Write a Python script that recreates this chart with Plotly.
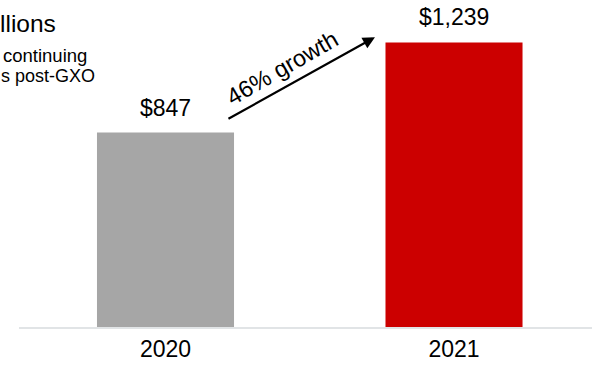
import plotly.graph_objects as go

categories = ["2020", "2021"]
values = [847, 1239]
value_labels = ["$847", "$1,239"]
bar_colors = ["#a6a6a6", "#cc0000"]
growth_label = "46% growth"
title_fragment = "llions"
note_lines = ["continuing", "s post-GXO"]

FONT = "Liberation Sans, Arial, sans-serif"

fig = go.Figure()
fig.add_trace(go.Bar(
    x=[0, 1], y=values, width=0.475,
    marker=dict(color=bar_colors, line=dict(width=0)),
    hoverinfo="skip",
))

# value labels above bars
for i, (v, lab) in enumerate(zip(values, value_labels)):
    fig.add_annotation(x=i, y=v, xref="x", yref="y", text=lab, showarrow=False,
                       yanchor="bottom", yshift=10,
                       font=dict(size=23, color="#000000", family=FONT))

# growth arrow
fig.add_annotation(
    x=0.726, y=1262, ax=0.213, ay=903,
    xref="x", yref="y", axref="x", ayref="y",
    showarrow=True, arrowhead=2, arrowsize=1.1, arrowwidth=2.2,
    arrowcolor="#000000", text="",
)
fig.add_annotation(
    x=0.404, y=1130, xref="x", yref="y", text=growth_label,
    showarrow=False, textangle=-30,
    font=dict(size=23.5, color="#000000", family=FONT),
)

# title / note fragments (cut off at the left edge in the source)
fig.add_annotation(x=0, y=1, xref="paper", yref="paper", xshift=-19 - 2, yshift=-8,
                   text=title_fragment, showarrow=False, xanchor="left", yanchor="top",
                   font=dict(size=24.5, color="#000000", family=FONT))
fig.add_annotation(x=0, y=1, xref="paper", yref="paper", xshift=-19 + 1, yshift=-43,
                   text=note_lines[0], showarrow=False, xanchor="left", yanchor="top",
                   font=dict(size=18.5, color="#000000", family=FONT))
fig.add_annotation(x=0, y=1, xref="paper", yref="paper", xshift=-19 - 1, yshift=-64,
                   text=note_lines[1], showarrow=False, xanchor="left", yanchor="top",
                   font=dict(size=18, color="#000000", family=FONT))

fig.update_layout(
    width=592, height=367,
    margin=dict(l=19, r=0, t=0, b=40),
    paper_bgcolor="white", plot_bgcolor="white",
    showlegend=False,
    xaxis=dict(range=[-0.5078, 1.4783], tickvals=[0, 1], ticktext=categories,
               showgrid=False, zeroline=False, showline=True,
               linecolor="#e1e4e6", linewidth=2, ticks="",
               tickfont=dict(size=23, color="#000000", family=FONT)),
    yaxis=dict(range=[0, 1424], visible=False, showgrid=False),
)

fig.write_html("out.html")
